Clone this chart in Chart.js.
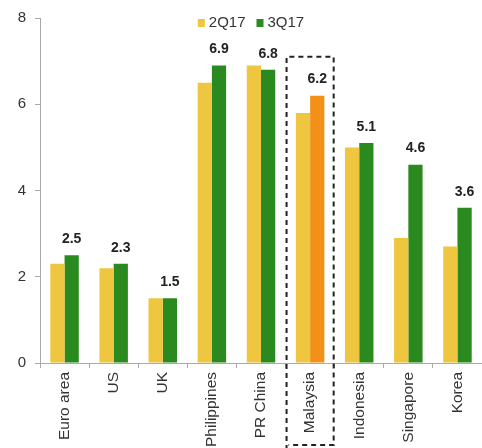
<!DOCTYPE html>
<html>
<head>
<meta charset="UTF-8" />
<script src="https://cdn.jsdelivr.net/npm/chart.js"></script>
<style>
  html, body { margin: 0; padding: 0; background: #fff; }
  #wrap { width: 482px; height: 448px; position: relative; }
</style>
</head>
<body>
<div id="wrap"><canvas id="c" width="482" height="448"></canvas></div>
<script>
const categories = ["Euro area", "US", "UK", "Philippines", "PR China", "Malaysia", "Indonesia", "Singapore", "Korea"];
const q2 = [2.3, 2.2, 1.5, 6.5, 6.9, 5.8, 5.0, 2.9, 2.7];
const q3 = [2.5, 2.3, 1.5, 6.9, 6.8, 6.2, 5.1, 4.6, 3.6];
const seriesNames = ["2Q17", "3Q17"];
const yTicks = [0, 2, 4, 6, 8];
const highlight = "Malaysia";

const YELLOW = "#eec63f";
const GREEN = "#2b8a1f";
const ORANGE = "#f39018";
const FONT = "'Liberation Sans', Arial, sans-serif";

// value labels, legend at top, dashed box round the highlighted category
const extras = {
  id: "extras",
  afterDatasetsDraw(chart) {
    const ctx = chart.ctx;
    const meta = chart.getDatasetMeta(1);
    ctx.save();
    ctx.font = "bold 14px " + FONT;
    ctx.fillStyle = "#222";
    ctx.textAlign = "center";
    ctx.textBaseline = "bottom";
    meta.data.forEach((bar, i) => {
      ctx.fillText(q3[i].toFixed(1), bar.x, bar.y - 9);
    });

    // legend
    ctx.font = "15px " + FONT;
    ctx.textAlign = "left";
    ctx.textBaseline = "middle";
    const colors = [YELLOW, GREEN];
    const widths = seriesNames.map(n => 11 + ctx.measureText(n).width);
    const total = widths.reduce((a, b) => a + b, 0) + 11;
    const area = chart.chartArea;
    let lx = (area.left + area.right) / 2 - 10 - total / 2;
    const ly = area.top + 5;
    seriesNames.forEach((n, k) => {
      ctx.fillStyle = colors[k];
      ctx.fillRect(lx, ly - 4, 7, 8);
      ctx.fillStyle = "#333";
      ctx.fillText(n, lx + 11, ly);
      lx += widths[k] + 11;
    });

    const x = chart.scales.x, y = chart.scales.y;
    const i = categories.indexOf(highlight);
    const cx = x.getPixelForValue(i);
    const half = (x.getPixelForValue(1) - x.getPixelForValue(0)) / 2;
    ctx.strokeStyle = "#222";
    ctx.lineWidth = 2;
    ctx.setLineDash([5, 4]);
    ctx.beginPath();
    ctx.moveTo(cx - half + 1, chart.height + 2);
    ctx.lineTo(cx - half + 1, y.getPixelForValue(7.1));
    ctx.lineTo(cx + half - 1, y.getPixelForValue(7.1));
    ctx.lineTo(cx + half - 1, chart.height - 3);
    ctx.lineTo(cx - half + 3, chart.height - 3);
    ctx.stroke();
    ctx.restore();
  }
};

new Chart(document.getElementById("c"), {
  type: "bar",
  data: {
    labels: categories,
    datasets: [
      { label: seriesNames[0], data: q2, backgroundColor: YELLOW },
      { label: seriesNames[1], data: q3,
        backgroundColor: categories.map(c => c === highlight ? ORANGE : GREEN) }
    ]
  },
  options: {
    responsive: false,
    animation: false,
    layout: { padding: { top: 10, right: 0, left: 0, bottom: 0 } },
    datasets: { bar: { categoryPercentage: 0.58, barPercentage: 1.0 } },
    plugins: {
      legend: { display: false },
      tooltip: { enabled: false }
    },
    scales: {
      x: {
        offset: true,
        grid: { display: true, drawOnChartArea: false, offset: true, tickLength: 5, color: "#aaa" },
        border: { color: "#aaa" },
        ticks: {
          minRotation: 90, maxRotation: 90, autoSkip: false, padding: 4,
          color: "#333",
          font: { size: 15.5, family: FONT }
        },
        afterFit(s) { s.height = 85; }
      },
      y: {
        min: 0, max: 8,
        afterBuildTicks(s) { s.ticks = yTicks.map(v => ({ value: v })); },
        grid: { display: true, drawOnChartArea: false, tickLength: 5, color: "#aaa" },
        border: { color: "#aaa" },
        ticks: {
          padding: 9, color: "#333",
          font: { size: 15, family: FONT }
        },
        afterFit(s) { s.width = 40; }
      }
    }
  },
  plugins: [extras]
});
</script>
</body>
</html>
